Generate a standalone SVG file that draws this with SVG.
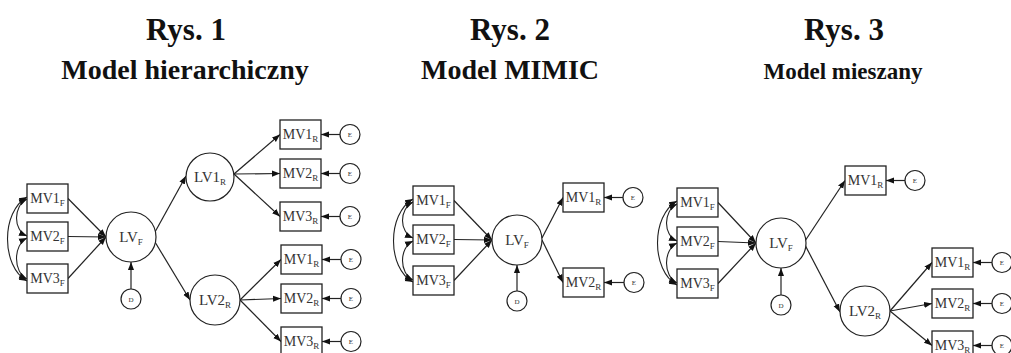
<svg xmlns="http://www.w3.org/2000/svg" width="1011" height="353" viewBox="0 0 1011 353" font-family="Liberation Serif, serif">
<style>
text{font-family:'Liberation Serif','Times New Roman',serif}
.t{font-weight:bold;fill:#111;text-anchor:middle}
.b{fill:#fff;stroke:#222;stroke-width:1.3}
.c{fill:#fff;stroke:#222;stroke-width:1.2}
.l{font-size:14px;fill:#333;text-anchor:middle}
.lv{font-size:15px;fill:#333;text-anchor:middle}
.s{font-size:9px}
.e{font-size:7px;fill:#333;text-anchor:middle}
.a{fill:none;stroke:#222;stroke-width:1.2;marker-end:url(#ah)}
.d{fill:none;stroke:#222;stroke-width:1.1;marker-start:url(#ah);marker-end:url(#ah)}
</style>
<defs>
<marker id="ah" viewBox="0 0 10 10" refX="10" refY="5" markerWidth="8" markerHeight="8" markerUnits="userSpaceOnUse" orient="auto-start-reverse"><path d="M0,1.2 L10,5 L0,8.8 z" fill="#111"/></marker>
</defs>
<g id="titles">
<text class="t" x="186" y="40" font-size="31">Rys. 1</text>
<text class="t" x="185" y="79" font-size="28">Model hierarchiczny</text>
<text class="t" x="510" y="40" font-size="31">Rys. 2</text>
<text class="t" x="510" y="79" font-size="28">Model MIMIC</text>
<text class="t" x="844" y="40" font-size="31">Rys. 3</text>
<text class="t" x="843" y="79" font-size="23">Model mieszany</text>
</g>
<g id="connectors">
<path class="d" d="M27,199 C13,206 13,230 27,236"/>
<path class="d" d="M27,238 C13,245 13,272 27,279"/>
<path class="d" d="M27,197 C1,212 1,266 27,281"/>
<path class="a" d="M68,198.5 L106,237"/>
<path class="a" d="M68,236.5 L106,237"/>
<path class="a" d="M68,278.5 L106,237"/>
<path class="a" d="M131,289 L131,262"/>
<path class="a" d="M155,232 L186,176"/>
<path class="a" d="M155,242 L190,300"/>
<path class="a" d="M234,174 L280,134.5"/>
<path class="a" d="M234,174 L280,173.5"/>
<path class="a" d="M234,174 L280,216.5"/>
<path class="a" d="M340,134.5 L321,134.5"/>
<path class="a" d="M340,173.5 L321,173.5"/>
<path class="a" d="M340,216.5 L321,216.5"/>
<path class="a" d="M240,300 L281,259.5"/>
<path class="a" d="M240,300 L281,298.5"/>
<path class="a" d="M240,300 L281,341.5"/>
<path class="a" d="M341,259.5 L322,259.5"/>
<path class="a" d="M341,298.5 L322,298.5"/>
<path class="a" d="M341,341.5 L322,341.5"/>
<path class="d" d="M413,202 C399,209 399,232 413,238"/>
<path class="d" d="M413,241 C399,248 399,273 413,280"/>
<path class="d" d="M413,199 C387,214 387,268 413,282"/>
<path class="a" d="M454,200.5 L492,240"/>
<path class="a" d="M454,239.5 L492,240"/>
<path class="a" d="M454,280.5 L492,240"/>
<path class="a" d="M517,291 L517,265"/>
<path class="a" d="M542,238 L563,197.5"/>
<path class="a" d="M542,240 L563,282.5"/>
<path class="a" d="M623,197.5 L604,197.5"/>
<path class="a" d="M624,282.5 L604,282.5"/>
<path class="d" d="M677,204 C663,211 663,235 677,241"/>
<path class="d" d="M677,243 C663,250 663,276 677,283"/>
<path class="d" d="M677,201 C651,216 651,270 677,285"/>
<path class="a" d="M718,202.5 L756,243"/>
<path class="a" d="M718,241.5 L756,243"/>
<path class="a" d="M718,283.5 L756,243"/>
<path class="a" d="M781,295 L781,268"/>
<path class="a" d="M805,241 L845,180.5"/>
<path class="a" d="M805,245 L840,312"/>
<path class="a" d="M905,180.5 L886,180.5"/>
<path class="a" d="M890,311 L932,262.5"/>
<path class="a" d="M890,311 L932,303.5"/>
<path class="a" d="M890,311 L932,345.5"/>
<path class="a" d="M992,262.5 L973,262.5"/>
<path class="a" d="M992,303.5 L973,303.5"/>
<path class="a" d="M992,345.5 L973,345.5"/>
</g>
<g id="d1-mv1f"><rect class="b" x="27" y="184" width="41" height="29"/><text class="l" x="47.5" y="203">MV1<tspan class="s" dy="3">F</tspan></text></g>
<g id="d1-mv2f"><rect class="b" x="27" y="222" width="41" height="29"/><text class="l" x="47.5" y="241">MV2<tspan class="s" dy="3">F</tspan></text></g>
<g id="d1-mv3f"><rect class="b" x="27" y="264" width="41" height="29"/><text class="l" x="47.5" y="283">MV3<tspan class="s" dy="3">F</tspan></text></g>
<g id="d1-lvf"><circle class="c" cx="131" cy="237" r="25"/><text class="lv" x="131" y="242">LV<tspan class="s" dy="3">F</tspan></text></g>
<g id="d1-d"><circle class="c" cx="131" cy="299" r="10"/><text class="e" x="131" y="301.5">D</text></g>
<g id="d1-lv1r"><circle class="c" cx="210" cy="177" r="24"/><text class="lv" x="210" y="182">LV1<tspan class="s" dy="3">R</tspan></text></g>
<g id="d1-lv2r"><circle class="c" cx="215" cy="300" r="25"/><text class="lv" x="215" y="305">LV2<tspan class="s" dy="3">R</tspan></text></g>
<g id="d1-mv1r-a"><rect class="b" x="280" y="120" width="41" height="29"/><text class="l" x="300.5" y="139">MV1<tspan class="s" dy="3">R</tspan></text></g>
<g id="d1-mv2r-a"><rect class="b" x="280" y="159" width="41" height="29"/><text class="l" x="300.5" y="178">MV2<tspan class="s" dy="3">R</tspan></text></g>
<g id="d1-mv3r-a"><rect class="b" x="280" y="202" width="41" height="29"/><text class="l" x="300.5" y="221">MV3<tspan class="s" dy="3">R</tspan></text></g>
<g id="d1-e1"><circle class="c" cx="350" cy="134.5" r="10"/><text class="e" x="350" y="137">E</text></g>
<g id="d1-e2"><circle class="c" cx="350" cy="173.5" r="10"/><text class="e" x="350" y="176">E</text></g>
<g id="d1-e3"><circle class="c" cx="350" cy="216.5" r="10"/><text class="e" x="350" y="219">E</text></g>
<g id="d1-mv1r-b"><rect class="b" x="281" y="245" width="41" height="29"/><text class="l" x="301.5" y="264">MV1<tspan class="s" dy="3">R</tspan></text></g>
<g id="d1-mv2r-b"><rect class="b" x="281" y="284" width="41" height="29"/><text class="l" x="301.5" y="303">MV2<tspan class="s" dy="3">R</tspan></text></g>
<g id="d1-mv3r-b"><rect class="b" x="281" y="327" width="41" height="29"/><text class="l" x="301.5" y="346">MV3<tspan class="s" dy="3">R</tspan></text></g>
<g id="d1-e4"><circle class="c" cx="351" cy="259.5" r="10"/><text class="e" x="351" y="262">E</text></g>
<g id="d1-e5"><circle class="c" cx="351" cy="298.5" r="10"/><text class="e" x="351" y="301">E</text></g>
<g id="d1-e6"><circle class="c" cx="351" cy="341.5" r="10"/><text class="e" x="351" y="344">E</text></g>
<g id="d2-mv1f"><rect class="b" x="413" y="186" width="41" height="29"/><text class="l" x="433.5" y="205">MV1<tspan class="s" dy="3">F</tspan></text></g>
<g id="d2-mv2f"><rect class="b" x="413" y="225" width="41" height="29"/><text class="l" x="433.5" y="244">MV2<tspan class="s" dy="3">F</tspan></text></g>
<g id="d2-mv3f"><rect class="b" x="413" y="266" width="41" height="29"/><text class="l" x="433.5" y="285">MV3<tspan class="s" dy="3">F</tspan></text></g>
<g id="d2-lvf"><circle class="c" cx="517" cy="240" r="25"/><text class="lv" x="517" y="245">LV<tspan class="s" dy="3">F</tspan></text></g>
<g id="d2-d"><circle class="c" cx="517" cy="301" r="10"/><text class="e" x="517" y="303.5">D</text></g>
<g id="d2-mv1r"><rect class="b" x="563" y="183" width="41" height="29"/><text class="l" x="583.5" y="202">MV1<tspan class="s" dy="3">R</tspan></text></g>
<g id="d2-mv2r"><rect class="b" x="563" y="268" width="41" height="29"/><text class="l" x="583.5" y="287">MV2<tspan class="s" dy="3">R</tspan></text></g>
<g id="d2-e1"><circle class="c" cx="633" cy="197.5" r="10"/><text class="e" x="633" y="200">E</text></g>
<g id="d2-e2"><circle class="c" cx="634" cy="282.5" r="10"/><text class="e" x="634" y="285">E</text></g>
<g id="d3-mv1f"><rect class="b" x="677" y="188" width="41" height="29"/><text class="l" x="697.5" y="207">MV1<tspan class="s" dy="3">F</tspan></text></g>
<g id="d3-mv2f"><rect class="b" x="677" y="227" width="41" height="29"/><text class="l" x="697.5" y="246">MV2<tspan class="s" dy="3">F</tspan></text></g>
<g id="d3-mv3f"><rect class="b" x="677" y="269" width="41" height="29"/><text class="l" x="697.5" y="288">MV3<tspan class="s" dy="3">F</tspan></text></g>
<g id="d3-lvf"><circle class="c" cx="781" cy="243" r="25"/><text class="lv" x="781" y="248">LV<tspan class="s" dy="3">F</tspan></text></g>
<g id="d3-d"><circle class="c" cx="781" cy="305" r="10"/><text class="e" x="781" y="307.5">D</text></g>
<g id="d3-mv1r"><rect class="b" x="845" y="166" width="41" height="29"/><text class="l" x="865.5" y="185">MV1<tspan class="s" dy="3">R</tspan></text></g>
<g id="d3-e0"><circle class="c" cx="915" cy="180.5" r="10"/><text class="e" x="915" y="183">E</text></g>
<g id="d3-lv2r"><circle class="c" cx="865" cy="311" r="25"/><text class="lv" x="865" y="316">LV2<tspan class="s" dy="3">R</tspan></text></g>
<g id="d3-mv1r-b"><rect class="b" x="932" y="248" width="41" height="29"/><text class="l" x="952.5" y="267">MV1<tspan class="s" dy="3">R</tspan></text></g>
<g id="d3-mv2r-b"><rect class="b" x="932" y="289" width="41" height="29"/><text class="l" x="952.5" y="308">MV2<tspan class="s" dy="3">R</tspan></text></g>
<g id="d3-mv3r-b"><rect class="b" x="932" y="331" width="41" height="29"/><text class="l" x="952.5" y="350">MV3<tspan class="s" dy="3">R</tspan></text></g>
<g id="d3-e1"><circle class="c" cx="1002" cy="262.5" r="10"/><text class="e" x="1002" y="265">E</text></g>
<g id="d3-e2"><circle class="c" cx="1002" cy="303.5" r="10"/><text class="e" x="1002" y="306">E</text></g>
<g id="d3-e3"><circle class="c" cx="1002" cy="345.5" r="10"/><text class="e" x="1002" y="348">E</text></g>
</svg>
